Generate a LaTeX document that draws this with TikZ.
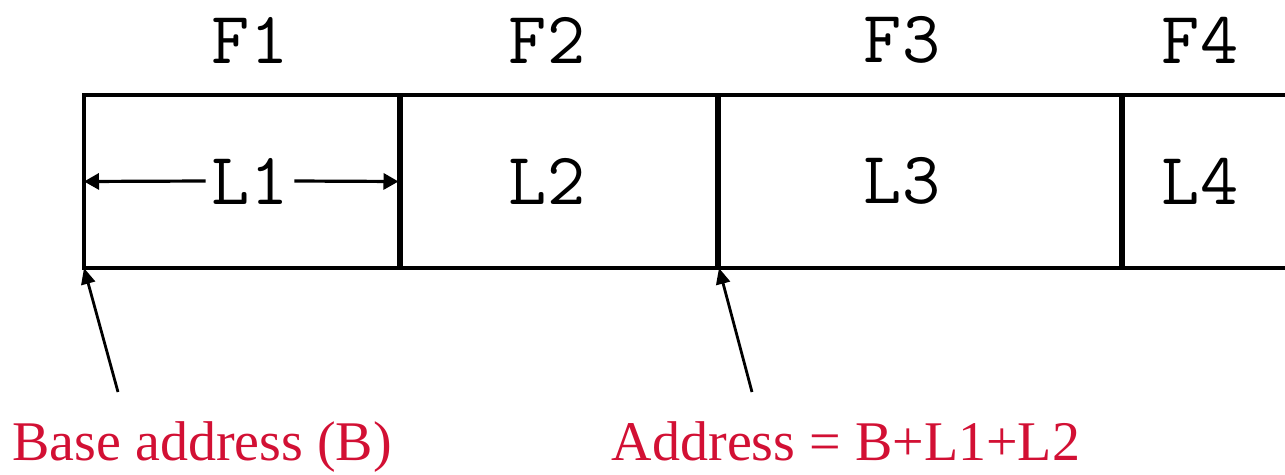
\documentclass[tikz,border=0pt]{standalone}
\usepackage{fontspec}
\usepackage{tikz}
\usetikzlibrary{arrows.meta}
\setmainfont{Liberation Serif}
\definecolor{bred}{RGB}{210,16,52}

\begin{document}
\begin{tikzpicture}[x=1pt, y=-1pt, >={Triangle[length=15pt, width=16pt]},
         field/.style={
         % The shape:
         rectangle, anchor=north west,
         % The size:
         minimum height=173pt,
         % The border
         line width=3.2pt, draw=black, outer sep=0pt,
         fill = white},
         lbl/.style={inner sep=6pt, font=\ttfamily\fontsize{74}{78}\selectfont},
         addr/.style={anchor=base, text=bred, inner sep=0pt,
         font=\fontsize{56}{60}\selectfont},
         dim/.style={->, line width=3.2pt},
         ptr/.style={-{Triangle[length=16pt, width=14pt]}, line width=2.8pt}]
   \useasboundingbox (0,0) rectangle (1285,474);
   \clip (0,0) rectangle (1285,474);
   \foreach \i/\x/\w/\c in {1/84/314.5/250, 2/401/315.5/547, 3/719/401.5/902, 4/1123/300/1200}{
      \node [field, minimum width=\w pt] (f\i) at (\x,95) {};
      \node [lbl] (l\i) at (\c,181) {L\i};
      \node [lbl] (n\i) at (\c,40) {F\i};
   };
   %% size of the first field
   \draw [dim] (l1.west) -- (f1.west);
   \draw [dim] (l1.east) -- (f1.east);
   %% addresses
   \node [addr] (base) at (202,460) {Base address (B)};
   \node [addr] (sum) at (846,460) {Address = B+L1+L2};
   \coordinate (pb) at (118,392);
   \coordinate (ps) at (752,392);
   \draw [ptr] (pb) -- (f1.south west);
   \draw [ptr] (ps) -- (f3.south west);
\end{tikzpicture}
\end{document}
